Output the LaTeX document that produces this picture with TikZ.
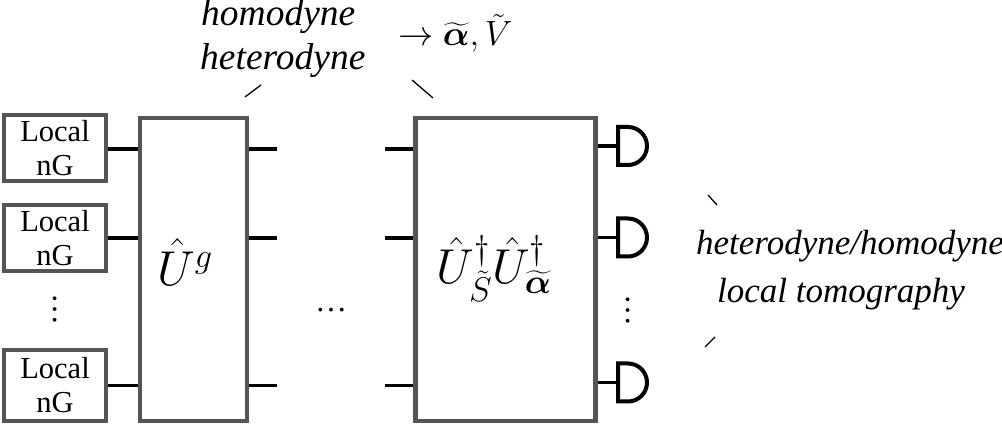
\RequirePackage{fix-cm}
\documentclass[tikz,border=0pt]{standalone}
\usepackage{amsmath,bm}
\usepackage{fontspec}
\setmainfont{Liberation Serif}
\definecolor{boxgray}{RGB}{85,85,85}
\begin{document}
\begin{tikzpicture}[x=1pt,y=-1pt,
  box/.style={draw=boxgray,line width=4.5pt,inner sep=0pt},
  loc/.style={box,minimum width=102pt,align=center,font=\fontsize{30.5}{34}\selectfont},
  wire/.style={line width=3.5pt,black},
  det/.style={line width=4pt,black},
  tick/.style={line width=1.3pt,black},
  lab/.style={font=\fontsize{37.5}{45}\selectfont\itshape,inner sep=0pt},
  rlab/.style={font=\fontsize{35}{48}\selectfont\itshape,inner sep=0pt},
  mlab/.style={inner sep=0pt},
  dots/.style={inner sep=0pt,font=\fontsize{32}{32}\selectfont},
  detector/.pic={\draw[det] (0,-19) -- (10,-19) arc[start angle=-90,end angle=90,radius=19] -- (0,19) -- cycle;}
]
\useasboundingbox (0,0) rectangle (1002,427);

% local non-Gaussian sources
\node[loc,minimum height=66pt] (l1) at (55,148) {Local\\nG};
\node[loc,minimum height=66pt] (l2) at (55,238) {Local\\nG};
\node[loc,minimum height=71pt] (l3) at (55,385.5) {Local\\nG};
\node[dots,rotate=90] (vd1) at (55,310) {…};

% Gaussian unitary
\node[box,minimum width=107pt,minimum height=303pt] (ug) at (193.5,269.5) {};
\node[mlab,font=\fontsize{49}{54}\selectfont] (ugl) at (185,262) {$\hat{U}^{g}$};

% inverse unitary
\node[box,minimum width=180pt,minimum height=303pt] (rb) at (505.5,269.5) {};
\node[mlab,font=\fontsize{49}{54}\selectfont] (rbl) at (494,269) {$\hat{U}^{\dagger}_{\tilde{S}}\hat{U}^{\dagger}_{\widetilde{\boldsymbol{\alpha}}}$};

% wire ends
\coordinate (o1) at (277,149);
\coordinate (o2) at (277,238);
\coordinate (o3) at (277,385.5);
\coordinate (i1) at (385,149);
\coordinate (i2) at (385,238);
\coordinate (i3) at (385,385.5);
\coordinate (d1) at (618,146);
\coordinate (d2) at (618,237.5);
\coordinate (d3) at (618,382.5);

\foreach \k in {1,2,3}{
  \draw[wire] (o\k -| l\k.east) -- (o\k -| ug.west);
  \draw[wire] (o\k -| ug.east) -- (o\k);
  \draw[wire] (i\k) -- (i\k -| rb.west);
  \draw[wire] (d\k -| rb.east) -- (d\k);
  \pic at (d\k) {detector};
}

\node[dots] (hd) at (331,310) {…};
\node[dots,rotate=90] (vd2) at (628,311) {…};

% labels
\node[lab,anchor=base west] (homo) at (201,26) {homodyne};
\node[lab,anchor=base west] (hetero) at (200,70) {heterodyne};
\node[mlab,font=\fontsize{35}{40}\selectfont,anchor=base west] (arr) at (398,46) {$\rightarrow \widetilde{\boldsymbol{\alpha}},\tilde{V}$};
\node[rlab,anchor=base] (tom1) at (850,255) {heterodyne/homodyne};
\node[rlab,anchor=base] (tom2) at (841,303) {local tomography};

% pointer ticks
\coordinate (ta1) at (245,97); \coordinate (ta2) at (261,85);
\coordinate (tb1) at (412,80); \coordinate (tb2) at (433,98);
\coordinate (tc1) at (708,195); \coordinate (tc2) at (717,205);
\coordinate (td1) at (705,347); \coordinate (td2) at (715,337);
\draw[tick] (ta1) -- (ta2);
\draw[tick] (tb1) -- (tb2);
\draw[tick] (tc1) -- (tc2);
\draw[tick] (td1) -- (td2);
\end{tikzpicture}
\end{document}
